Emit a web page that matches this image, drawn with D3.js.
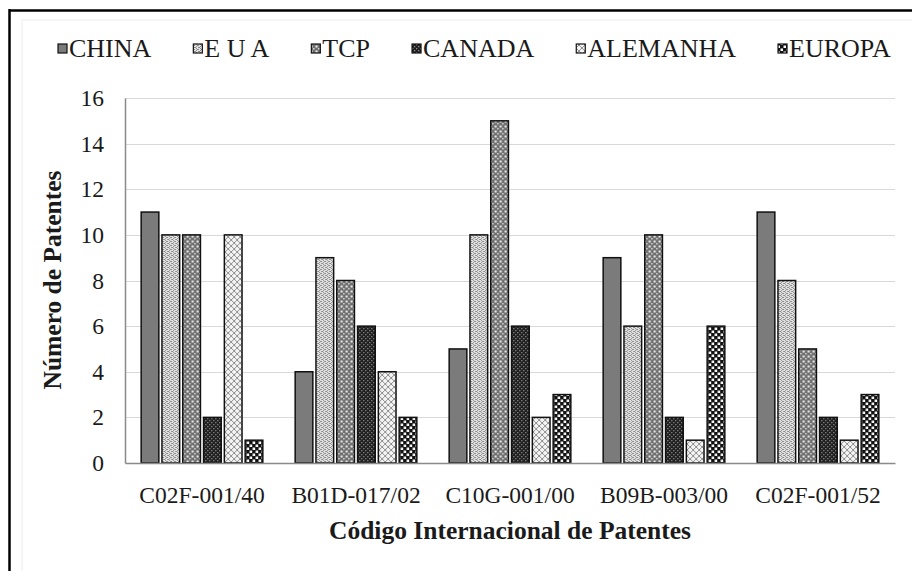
<!DOCTYPE html>
<html>
<head>
<meta charset="utf-8">
<script src="https://cdn.jsdelivr.net/npm/d3@7"></script>
<style>
  html, body { margin: 0; padding: 0; background: #fff; }
  svg { display: block; }
  text { font-family: "Liberation Serif", "Times New Roman", serif; fill: #1a1a1a; }
</style>
</head>
<body>
<svg id="chart" width="912" height="571"></svg>
<script>
// Patent counts per IPC code and country/office
const categories = ["C02F-001/40", "B01D-017/02", "C10G-001/00", "B09B-003/00", "C02F-001/52"];
const seriesNames = ["CHINA", "E U A", "TCP", "CANADA", "ALEMANHA", "EUROPA"];
const china    = [11, 4, 5, 9, 11];
const eua      = [10, 9, 10, 6, 8];
const tcp      = [10, 8, 15, 10, 5];
const canada   = [2, 6, 6, 2, 2];
const alemanha = [10, 4, 2, 1, 1];
const europa   = [1, 2, 3, 6, 3];
const yTicks   = [0, 2, 4, 6, 8, 10, 12, 14, 16];

const seriesValues = [china, eua, tcp, canada, alemanha, europa];

const svg = d3.select("#chart");
const defs = svg.append("defs");

// Fill patterns, one per series
function makePattern(id, w, h, draw) {
  const p = defs.append("pattern")
    .attr("id", id).attr("patternUnits", "userSpaceOnUse")
    .attr("width", w).attr("height", h);
  draw(p);
}
makePattern("p0", 4, 4, p => {
  p.append("rect").attr("width", 4).attr("height", 4).attr("fill", "#7b7b7b");
});
makePattern("p1", 4, 4, p => {
  p.append("rect").attr("width", 4).attr("height", 4).attr("fill", "#e4e4e4");
  [[0,0],[2,1],[0,2],[2,3],[1,1],[3,3]].forEach(([x,y]) =>
    p.append("rect").attr("x", x).attr("y", y).attr("width", 1).attr("height", 1).attr("fill", "#8a8a8a"));
});
makePattern("p2", 5, 5, p => {
  p.append("rect").attr("width", 5).attr("height", 5).attr("fill", "#6f6f6f");
  p.append("rect").attr("x", 0.5).attr("y", 0.5).attr("width", 2).attr("height", 2).attr("fill", "#f2f2f2");
  p.append("rect").attr("x", 3).attr("y", 3).attr("width", 1.5).attr("height", 1.5).attr("fill", "#d8d8d8");
});
makePattern("p3", 4, 4, p => {
  p.append("rect").attr("width", 4).attr("height", 4).attr("fill", "#1e1e1e");
  p.append("rect").attr("x", 0).attr("y", 0).attr("width", 1.3).attr("height", 1.3).attr("fill", "#8c8c8c");
  p.append("rect").attr("x", 2).attr("y", 2).attr("width", 1.3).attr("height", 1.3).attr("fill", "#8c8c8c");
});
makePattern("p4", 6, 6, p => {
  p.append("rect").attr("width", 6).attr("height", 6).attr("fill", "#f4f4f4");
  p.append("path").attr("d", "M0,0L6,6M6,0L0,6").attr("stroke", "#8f8f8f").attr("stroke-width", 1);
});
makePattern("p5", 6, 6, p => {
  p.append("rect").attr("width", 6).attr("height", 6).attr("fill", "#111");
  p.append("rect").attr("x", 0.5).attr("y", 0.5).attr("width", 2.5).attr("height", 2.5).attr("fill", "#fff");
  p.append("rect").attr("x", 3.5).attr("y", 3.5).attr("width", 2.5).attr("height", 2.5).attr("fill", "#fff");
});
const fills = seriesNames.map((_, i) => `url(#p${i})`);

// Frame
svg.append("rect").attr("x", 22).attr("y", 20).attr("width", 900).attr("height", 560)
  .attr("fill", "none").attr("stroke", "#ececec").attr("stroke-width", 1);
svg.append("line").attr("x1", 9).attr("x2", 912).attr("y1", 10.5).attr("y2", 10.5)
  .attr("stroke", "#000").attr("stroke-width", 2.5);
svg.append("line").attr("x1", 9.5).attr("x2", 9.5).attr("y1", 9).attr("y2", 571)
  .attr("stroke", "#000").attr("stroke-width", 2.5);

// Plot area
const plotLeft = 125, plotRight = 895, plotTop = 98, plotBottom = 463;

const x0 = d3.scaleBand().domain(categories).range([plotLeft, plotRight])
  .paddingInner(0.21).paddingOuter(0.105);
const x1 = d3.scaleBand().domain(seriesNames).range([0, x0.bandwidth()])
  .paddingInner(0.15).paddingOuter(0);
const y = d3.scaleLinear().domain([0, 16]).range([plotBottom, plotTop]);

// Gridlines
svg.append("g").selectAll("line").data(yTicks.filter(d => d > 0)).join("line")
  .attr("x1", plotLeft).attr("x2", plotRight)
  .attr("y1", d => Math.round(y(d)) + 0.5).attr("y2", d => Math.round(y(d)) + 0.5)
  .attr("stroke", "#d9d9d9").attr("stroke-width", 1.2);

// Bars
const groups = svg.append("g").selectAll("g").data(categories).join("g")
  .attr("transform", c => `translate(${x0(c)},0)`);
groups.selectAll("rect")
  .data((c, ci) => seriesNames.map((s, si) => ({ s, si, v: seriesValues[si][ci] })))
  .join("rect")
  .attr("x", d => x1(d.s))
  .attr("width", x1.bandwidth())
  .attr("y", d => y(d.v))
  .attr("height", d => y(0) - y(d.v))
  .attr("fill", d => fills[d.si])
  .attr("stroke", "#111").attr("stroke-width", 1.5);

// Axes
const yAxis = svg.append("g").attr("transform", `translate(${plotLeft},0)`)
  .call(d3.axisLeft(y).tickValues(yTicks).tickSize(0).tickPadding(21));
yAxis.select(".domain").attr("stroke", "#8a8a8a").attr("stroke-width", 1.5);
yAxis.selectAll("text").style("font-family", "Liberation Serif").style("font-size", "23.5px").attr("fill", "#1a1a1a");

const xAxis = svg.append("g").attr("transform", `translate(0,${plotBottom})`)
  .call(d3.axisBottom(x0).tickSize(0).tickPadding(23));
xAxis.select(".domain").attr("stroke", "#8a8a8a").attr("stroke-width", 1.5);
xAxis.selectAll("text").style("font-family", "Liberation Serif").style("font-size", "23.5px").attr("fill", "#1a1a1a");

// Axis titles
svg.append("text").attr("x", (plotLeft + plotRight) / 2).attr("y", 539)
  .attr("text-anchor", "middle").style("font-size", "25.5px").style("font-weight", "bold")
  .text("Código Internacional de Patentes");
svg.append("text").attr("transform", "translate(61,280) rotate(-90)")
  .attr("text-anchor", "middle").style("font-size", "25.5px").style("font-weight", "bold")
  .text("Número de Patentes");

// Legend
const legend = svg.append("g");
let lx = 58;
seriesNames.forEach((name, i) => {
  legend.append("rect").attr("x", lx).attr("y", 44).attr("width", 9).attr("height", 9)
    .attr("fill", fills[i]).attr("stroke", "#111").attr("stroke-width", 1.2);
  const t = legend.append("text").attr("x", lx + 11).attr("y", 57)
    .style("font-size", "26px").text(name);
  lx += 11 + t.node().getComputedTextLength() + 42;
});
</script>
</body>
</html>
